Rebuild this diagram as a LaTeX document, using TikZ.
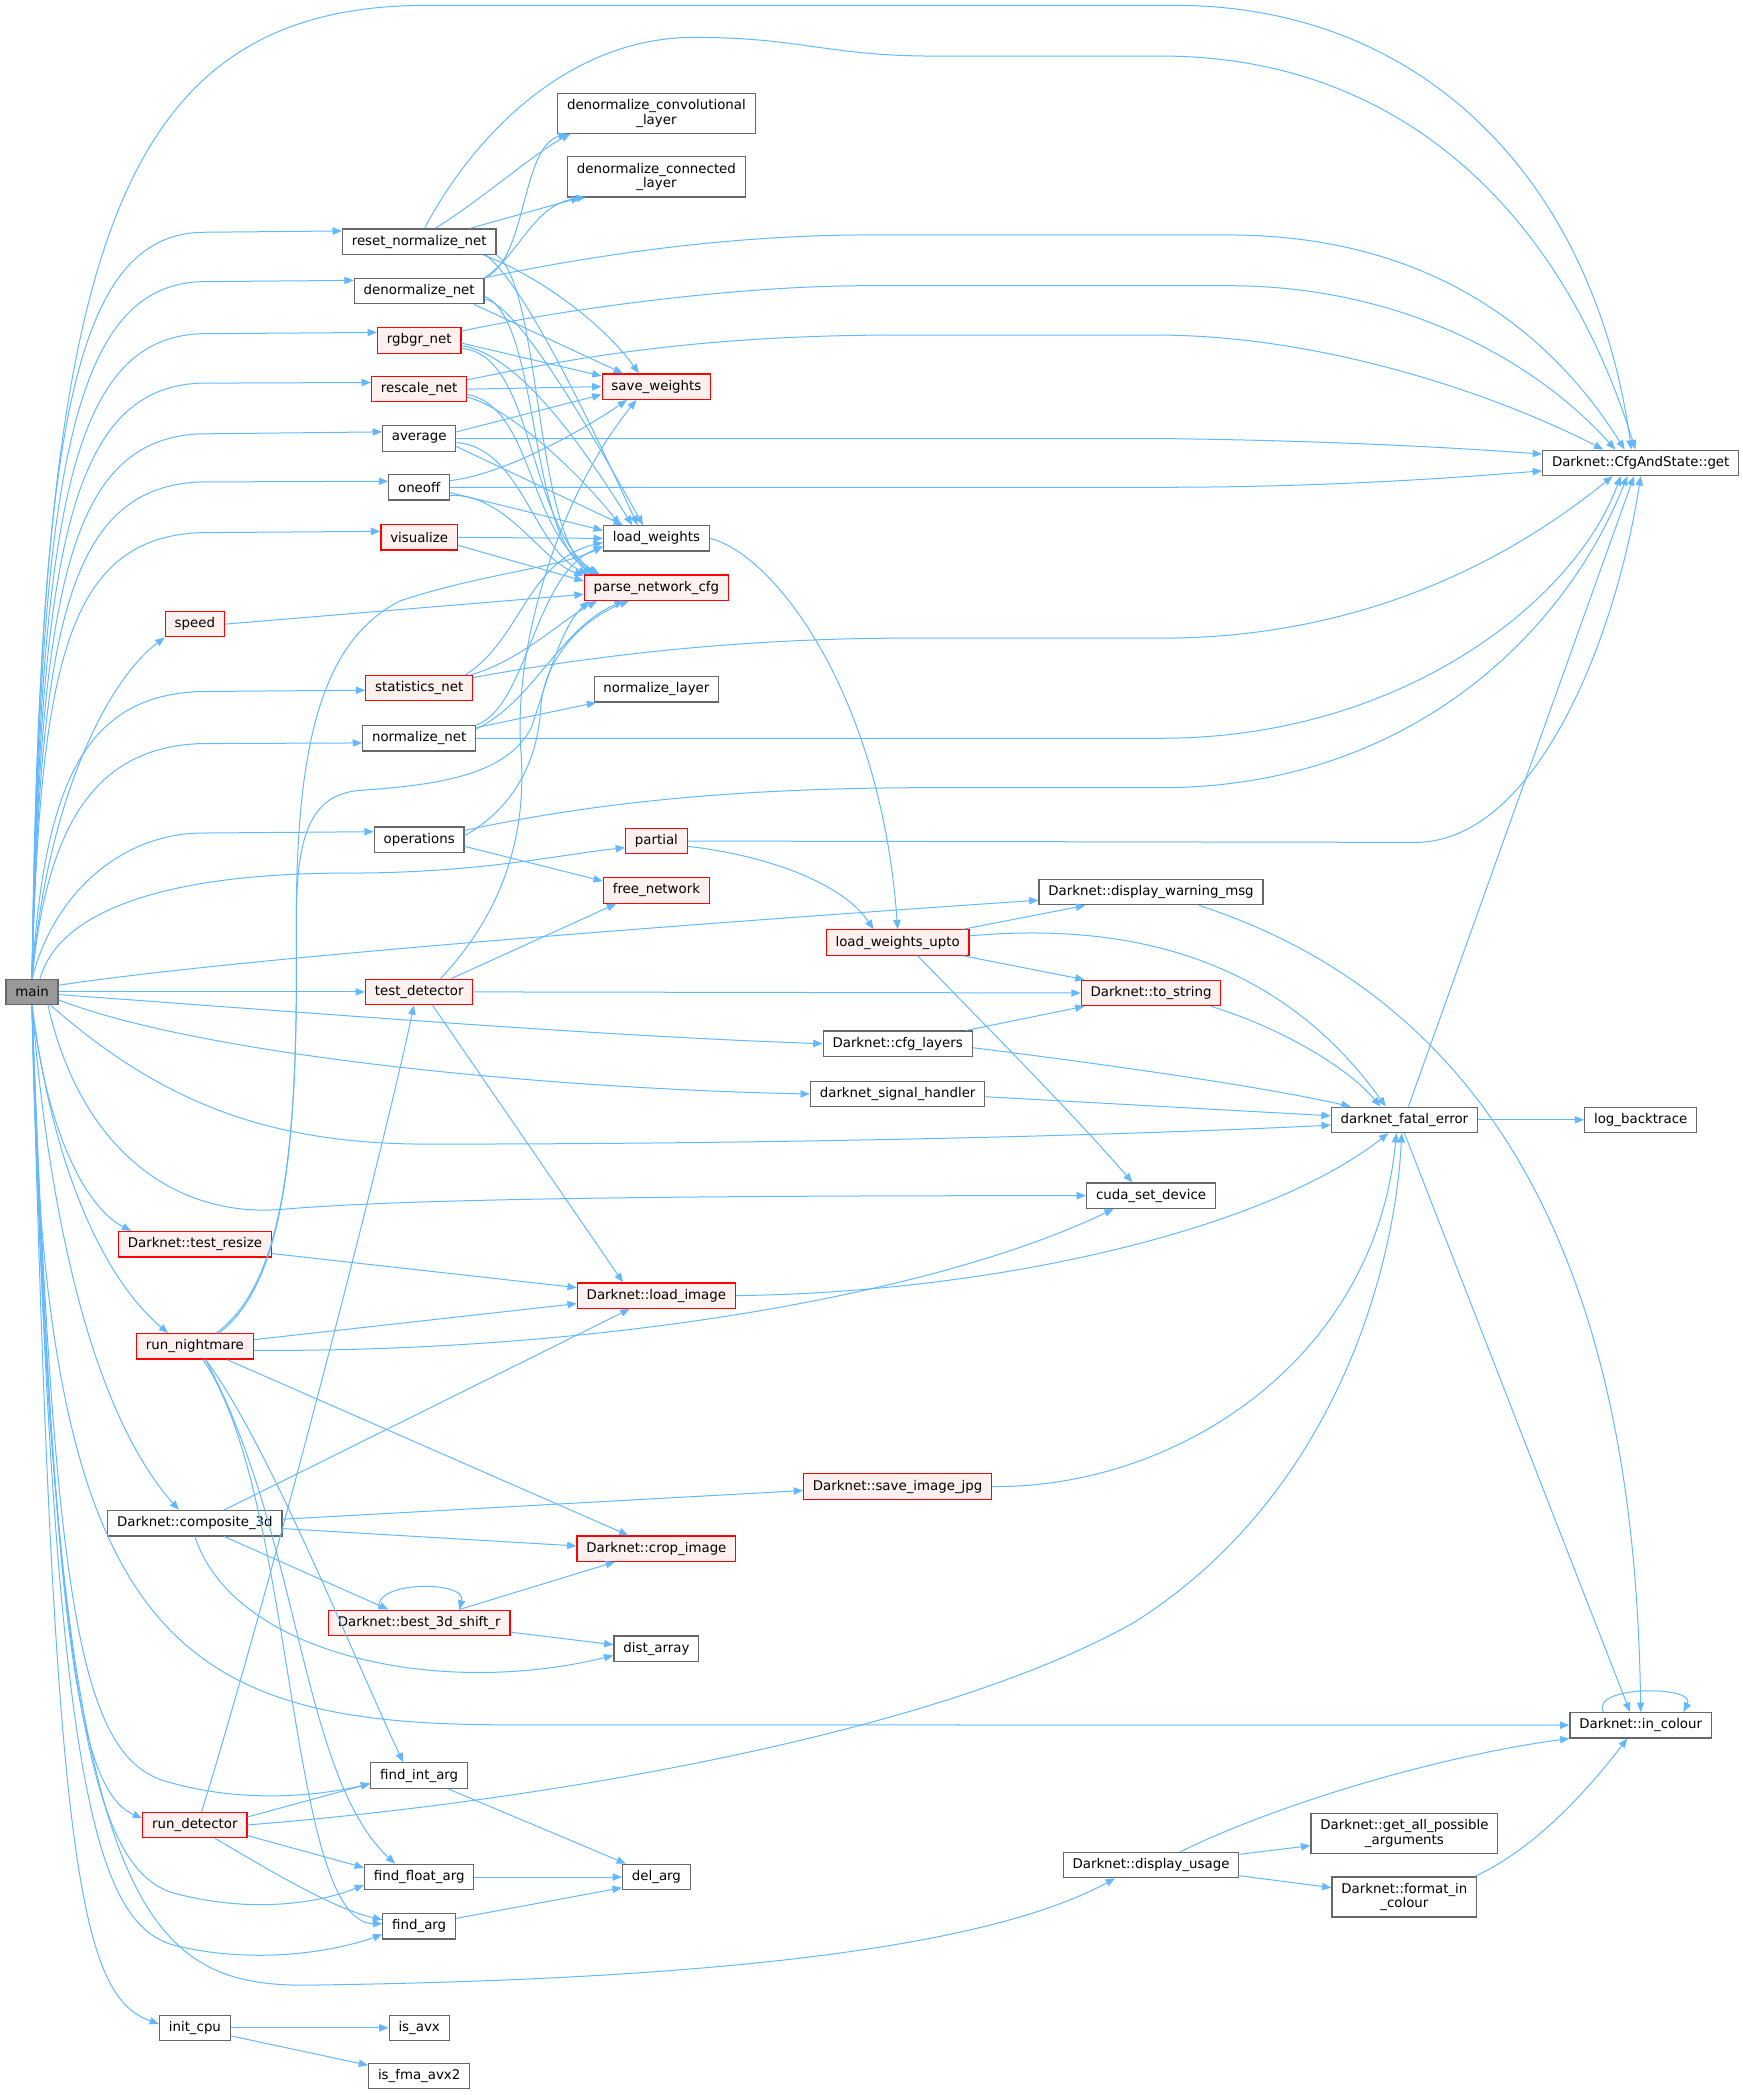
\documentclass[tikz,border=0pt]{standalone}
\usepackage{fontspec}
\setmainfont{DejaVu Sans}
\usetikzlibrary{arrows.meta}

\definecolor{edgeblue}{RGB}{99,184,255}
\definecolor{boxgray}{RGB}{102,102,102}
\definecolor{boxred}{RGB}{255,0,0}
\definecolor{redfill}{RGB}{255,240,240}
\definecolor{mainfill}{RGB}{153,153,153}

\tikzset{
  fn/.style={draw=boxgray, fill=white, line width=0.9pt, inner xsep=7pt, inner ysep=0pt,
    minimum height=19pt, font=\fontsize{10}{11}\selectfont},
  fnred/.style={fn, draw=boxred, fill=redfill},
  fnmain/.style={fn, fill=mainfill},
  twoline/.style={align=center, minimum height=30pt},
  call/.style={draw=edgeblue, line width=0.75pt, -{Triangle[length=7pt,width=5.5pt]}},
}

\begin{document}
\begin{tikzpicture}[x=1pt, y=-1pt]
    \useasboundingbox (0,0) rectangle (1305.6,1569.3);

    % functions
    \node[fnmain] (main) at (24,743) {main};
    \node[fn] (resetnorm) at (314,181) {reset\_normalize\_net};
    \node[fn] (denormnet) at (314,218) {denormalize\_net};
    \node[fnred] (rgbgr) at (314,255) {rgbgr\_net};
    \node[fnred] (rescale) at (314,291.5) {rescale\_net};
    \node[fn] (average) at (314,328.5) {average};
    \node[fn] (oneoff) at (314,365) {oneoff};
    \node[fnred] (visualize) at (314,402.5) {visualize};
    \node[fnred] (speed) at (146,467.5) {speed};
    \node[fnred] (statsnet) at (314,515.5) {statistics\_net};
    \node[fn] (normnet) at (314,553) {normalize\_net};
    \node[fn] (operations) at (314,629) {operations};
    \node[fnred] (testdet) at (314,743) {test\_detector};
    \node[fnred] (testresize) at (146,932) {Darknet::test\_resize};
    \node[fnred] (nightmare) at (146,1008.5) {run\_nightmare};
    \node[fn] (composite) at (146,1141) {Darknet::composite\_3d};
    \node[fnred] (shift) at (314,1215.6) {Darknet::best\_3d\_shift\_r};
    \node[fn] (findint) at (314,1330) {find\_int\_arg};
    \node[fnred] (rundet) at (146,1367) {run\_detector};
    \node[fn] (findfloat) at (314,1406) {find\_float\_arg};
    \node[fn] (findarg) at (314,1443) {find\_arg};
    \node[fn] (initcpu) at (146,1519) {init\_cpu};
    \node[fn] (isavx) at (314,1519) {is\_avx};
    \node[fn] (isfma) at (314,1555) {is\_fma\_avx2};

    \node[fn, twoline] (denormconv) at (491.7,84.8) {denormalize\_convolutional\\\_layer};
    \node[fn, twoline] (denormconn) at (491.7,132.5) {denormalize\_connected\\\_layer};
    \node[fnred] (saveweights) at (491.7,289.6) {save\_weights};
    \node[fn] (loadweights) at (491.7,403.3) {load\_weights};
    \node[fnred] (parsecfg) at (491.7,440.2) {parse\_network\_cfg};
    \node[fn] (normlayer) at (491.7,516.3) {normalize\_layer};
    \node[fnred] (partial) at (491.7,630) {partial};
    \node[fnred] (freenet) at (491.7,667) {free\_network};
    \node[fnred] (loadimg) at (491.7,970.5) {Darknet::load\_image};
    \node[fnred] (cropimg) at (491.7,1160) {Darknet::crop\_image};
    \node[fn] (distarr) at (491.7,1235) {dist\_array};
    \node[fn] (delarg) at (491.7,1406) {del\_arg};

    \node[fnred] (wupto) at (672.4,706) {load\_weights\_upto};
    \node[fn] (cfglayers) at (672.4,781.8) {Darknet::cfg\_layers};
    \node[fn] (sighandler) at (672.4,819.5) {darknet\_signal\_handler};
    \node[fnred] (savejpg) at (672.4,1113.5) {Darknet::save\_image\_jpg};

    \node[fn] (warnmsg) at (862.2,668.3) {Darknet::display\_warning\_msg};
    \node[fnred] (tostring) at (862.2,743.8) {Darknet::to\_string};
    \node[fn] (cudadev) at (862.2,895.6) {cuda\_set\_device};
    \node[fn] (usage) at (862.2,1397) {Darknet::display\_usage};

    \node[fn] (fatal) at (1052,838.8) {darknet\_fatal\_error};
    \node[fn, twoline] (allargs) at (1052,1373.5) {Darknet::get\_all\_possible\\\_arguments};
    \node[fn, twoline] (fmtcolour) at (1052,1421) {Darknet::format\_in\\\_colour};

    \node[fn] (cfgget) at (1229,346.7) {Darknet::CfgAndState::get};
    \node[fn] (backtrace) at (1229,838.8) {log\_backtrace};
    \node[fn] (incolour) at (1229,1292.3) {Darknet::in\_colour};

    % calls from main
    \draw[call] (main.north) .. controls (30,200) and (80,4) .. (320,4) -- (880,4) .. controls (1070,4) and (1195,140) .. ([xshift=-7pt]cfgget.north);
    \draw[call] (main.north) .. controls (30,341) and (50,178) .. (150,174) -- ([yshift=8pt]resetnorm.west);
    \draw[call] (main.north) .. controls (30,367) and (50,215) .. (150,211) -- ([yshift=8pt]denormnet.west);
    \draw[call] (main.north) .. controls (30,394) and (50,254) .. (150,250) -- ([yshift=6pt]rgbgr.west);
    \draw[call] (main.north) .. controls (30,420) and (50,291) .. (150,287) -- ([yshift=5pt]rescale.west);
    \draw[call] (main.north) .. controls (30,446) and (50,329) .. (150,325) -- ([yshift=5pt]average.west);
    \draw[call] (main.north) .. controls (30,472) and (50,365) .. (150,361) -- ([yshift=4.5pt]oneoff.west);
    \draw[call] (main.north) .. controls (30,498) and (50,403) .. (150,399) -- ([yshift=4.5pt]visualize.west);
    \draw[call] (main.north) .. controls (35,600) and (80,510) .. (speed.south west);
    \draw[call] (main.north) .. controls (33,590) and (62,521) .. (150,518) -- ([yshift=-1.5pt]statsnet.west);
    \draw[call] (main.north) .. controls (35,620) and (70,560) .. (150,557) -- ([yshift=-3.5pt]normnet.west);
    \draw[call] (main.north) .. controls (40,670) and (90,625) .. (150,624) -- ([yshift=6pt]operations.west);
    \draw[call] ([xshift=6pt]main.north) .. controls (45,680) and (130,654) .. (260,654) .. controls (360,654) and (420,640) .. ([yshift=-5pt]partial.west);
    \draw[call] ([yshift=5pt]main.east) .. controls (150,722) and (400,700) .. ([yshift=-6pt]warnmsg.west);
    \draw[call] (main.east) -- (testdet.west);
    \draw[call] ([yshift=-2pt]main.east) .. controls (250,760) and (450,776) .. (cfglayers.west);
    \draw[call] ([yshift=-6pt]main.east) .. controls (150,790) and (400,815) .. (sighandler.west);
    \draw[call] ([xshift=-6pt]main.south east) .. controls (120,825) and (200,857) .. (320,857) .. controls (600,857) and (850,850) .. ([yshift=-4pt]fatal.west);
    \draw[call] ([xshift=-8pt]main.south east) .. controls (60,860) and (130,912) .. (210,906) .. controls (300,898) and (500,895.6) .. (cudadev.west);
    \draw[call] (main.south) .. controls (35,850) and (65,905) .. ([xshift=10pt]testresize.north west);
    \draw[call] (main.south) .. controls (40,880) and (80,960) .. ([xshift=-20pt]nightmare.north);
    \draw[call] (main.south) .. controls (40,950) and (80,1070) .. ([xshift=-12pt]composite.north);
    \draw[call] (main.south) .. controls (30,1230) and (130,1292) .. (380,1292) -- (incolour.west);
    \draw[call] (main.south) .. controls (40,1200) and (60,1310) .. (120,1333) .. controls (180,1352) and (240,1345) .. ([yshift=-6pt]findint.west);
    \draw[call] (main.south) .. controls (40,1200) and (55,1340) .. ([yshift=5pt]rundet.west);
    \draw[call] (main.south) .. controls (40,1280) and (70,1400) .. (130,1418) .. controls (190,1434) and (240,1425) .. ([yshift=-6pt]findfloat.west);
    \draw[call] (main.south) .. controls (40,1330) and (70,1440) .. (130,1457) .. controls (190,1472) and (250,1462) .. ([yshift=-6pt]findarg.west);
    \draw[call] (main.south) .. controls (40,1420) and (100,1488) .. (230,1487) .. controls (450,1484) and (720,1470) .. ([xshift=-27pt]usage.south);
    \draw[call] (main.south) .. controls (40,1400) and (60,1495) .. ([yshift=3pt]initcpu.west);

    % reset_normalize_net
    \draw[call] ([xshift=4pt]resetnorm.north) .. controls (350,110) and (420,28) .. (520,28) .. controls (600,28) and (620,42) .. (700,42) -- (870,42) .. controls (1050,42) and (1170,160) .. ([xshift=-4pt]cfgget.north);
    \draw[call] ([xshift=12pt]resetnorm.north) .. controls (360,150) and (400,115) .. ([xshift=10pt]denormconv.south west);
    \draw[call] ([xshift=-20pt]resetnorm.north east) -- ([xshift=10pt]denormconn.south west);
    \draw[call] ([xshift=-10pt]resetnorm.south east) .. controls (400,205) and (450,240) .. ([xshift=28pt]saveweights.north west);
    \draw[call] ([xshift=-8pt]resetnorm.south east) .. controls (390,212) and (430,290) .. ([xshift=26pt]loadweights.north west);
    \draw[call] (resetnorm.south east) .. controls (405,215) and (400,390) .. ([xshift=6pt]parsecfg.north west);

    % denormalize_net
    \draw[call] (denormnet.north east) .. controls (450,190) and (550,176) .. (650,176) -- (920,176) .. controls (1050,176) and (1150,230) .. ([xshift=-12pt]cfgget.north);
    \draw[call] (denormnet.north east) .. controls (395,195) and (390,110) .. ([xshift=8pt]denormconv.south west);
    \draw[call] (denormnet.north east) .. controls (390,190) and (400,152) .. ([xshift=14pt]denormconn.south west);
    \draw[call] ([xshift=-8pt]denormnet.south east) -- ([xshift=16pt]saveweights.north west);
    \draw[call] ([yshift=-6pt]denormnet.east) .. controls (385,228) and (430,300) .. ([xshift=30pt]loadweights.north west);
    \draw[call] ([yshift=-4pt]denormnet.east) .. controls (405,240) and (395,400) .. ([xshift=8pt]parsecfg.north west);

    % rgbgr_net
    \draw[call] ([yshift=-3pt]rgbgr.north east) .. controls (420,232) and (550,214) .. (650,214) -- (920,214) .. controls (1050,214) and (1150,270) .. ([xshift=-19pt]cfgget.north);
    \draw[call] ([yshift=-2pt]rgbgr.east) -- ([yshift=8pt]saveweights.west);
    \draw[call] ([yshift=-4pt]rgbgr.east) .. controls (390,265) and (440,340) .. ([xshift=22pt]loadweights.north west);
    \draw[call] ([yshift=-6pt]rgbgr.east) .. controls (400,265) and (395,390) .. ([xshift=10pt]parsecfg.north west);

    % rescale_net
    \draw[call] ([yshift=-3pt]rescale.north east) .. controls (430,268) and (520,252) .. (660,251) -- (870,251) .. controls (1000,252) and (1130,300) .. ([xshift=-28pt]cfgget.north);
    \draw[call] (rescale.east) -- (saveweights.west);
    \draw[call] ([yshift=-6pt]rescale.east) .. controls (380,305) and (430,350) .. ([xshift=13pt]loadweights.north west);
    \draw[call] ([yshift=-4pt]rescale.east) .. controls (400,305) and (395,400) .. ([xshift=12pt]parsecfg.north west);

    % average
    \draw[call] (average.east) -- (870,328.5) .. controls (1000,330) and (1100,336) .. ([yshift=6.5pt]cfgget.west);
    \draw[call] ([yshift=5pt]average.east) -- ([yshift=-6pt]saveweights.west);
    \draw[call] ([yshift=-6pt]average.east) -- ([xshift=15pt]loadweights.north west);
    \draw[call] ([yshift=-3pt]average.east) .. controls (390,335) and (400,410) .. ([xshift=3pt]parsecfg.north west);

    % oneoff
    \draw[call] (oneoff.east) -- (870,365) .. controls (1000,365) and (1100,357) .. ([yshift=-6pt]cfgget.west);
    \draw[call] ([yshift=5pt]oneoff.east) .. controls (380,355) and (440,320) .. ([xshift=-22pt]saveweights.south);
    \draw[call] ([yshift=-4pt]oneoff.east) -- ([yshift=6pt]loadweights.west);
    \draw[call] ([yshift=-6pt]oneoff.east) .. controls (380,370) and (405,420) .. ([yshift=-1pt]parsecfg.north west);

    % visualize, speed
    \draw[call] (visualize.east) -- (loadweights.west);
    \draw[call] ([yshift=-6pt]visualize.east) -- ([yshift=5pt]parsecfg.west);
    \draw[call] (speed.east) -- ([yshift=-5pt]parsecfg.west);

    % statistics_net
    \draw[call] ([yshift=-2pt]statsnet.north east) .. controls (450,490) and (560,478) .. (680,478) -- (870,478) .. controls (1020,478) and (1130,420) .. ([xshift=-21pt]cfgget.south);
    \draw[call] ([xshift=-6pt]statsnet.north east) .. controls (390,480) and (395,420) .. ([yshift=-3pt]loadweights.west);
    \draw[call] ([xshift=-2pt]statsnet.north east) .. controls (390,495) and (420,465) .. ([xshift=10pt]parsecfg.south west);

    % normalize_net
    \draw[call] (normnet.east) -- (870,553) .. controls (1050,553) and (1180,450) .. ([xshift=-15pt]cfgget.south);
    \draw[call] ([yshift=-2pt]normnet.north east) -- ([xshift=2pt]normlayer.south west);
    \draw[call] (normnet.north east) .. controls (395,530) and (400,430) .. ([yshift=-6pt]loadweights.west);
    \draw[call] ([yshift=-3pt]normnet.north east) .. controls (400,525) and (420,470) .. ([xshift=30pt]parsecfg.south west);

    % operations
    \draw[call] ([yshift=-3pt]operations.north east) .. controls (450,600) and (560,590) .. (700,590) -- (870,590) .. controls (1050,590) and (1170,480) .. ([xshift=-10pt]cfgget.south);
    \draw[call] ([yshift=3pt]operations.east) .. controls (385,605) and (403,570) .. (405,530) .. controls (408,490) and (440,462) .. ([xshift=34pt]parsecfg.south west);
    \draw[call] ([yshift=-5pt]operations.east) -- ([yshift=7pt]freenet.west);

    % partial, load_weights
    \draw[call] (partial.east) -- (1060,631) .. controls (1150,631) and (1210,480) .. (cfgget.south);
    \draw[call] ([yshift=-4pt]partial.east) .. controls (570,640) and (630,660) .. ([xshift=-18pt]wupto.north);
    \draw[call] (loadweights.east) .. controls (580,415) and (660,520) .. (wupto.north);

    % load_weights_upto
    \draw[call] ([xshift=-5pt]wupto.north east) -- ([xshift=35pt]warnmsg.south west);
    \draw[call] ([xshift=-5pt]wupto.south east) -- ([xshift=3pt]tostring.north west);
    \draw[call] ([yshift=5pt]wupto.east) .. controls (850,690) and (960,720) .. ([xshift=-14pt]fatal.north);
    \draw[call] ([xshift=15pt]wupto.south) .. controls (730,760) and (800,830) .. ([xshift=-14pt]cudadev.north);

    % test_detector
    \draw[call] (testdet.east) -- (tostring.west);
    \draw[call] ([xshift=24pt]testdet.north) -- ([xshift=10pt]freenet.south west);
    \draw[call] ([xshift=10pt]testdet.south) -- ([xshift=-25pt]loadimg.north);
    \draw[call] ([xshift=16pt]testdet.north) .. controls (380,680) and (395,620) .. (390,560) .. controls (385,480) and (420,370) .. ([xshift=-15pt]saveweights.south);

    % error handling
    \draw[call] ([xshift=36pt]warnmsg.south) .. controls (1180,770) and (1226,1060) .. (incolour.north);
    \draw[call] ([xshift=-8pt]tostring.south east) .. controls (960,770) and (1010,800) .. ([xshift=-18pt]fatal.north);
    \draw[call] ([xshift=-5pt]cfglayers.north east) -- ([xshift=3pt]tostring.south west);
    \draw[call] ([yshift=-3pt]cfglayers.east) .. controls (850,800) and (950,815) .. ([xshift=15pt]fatal.north west);
    \draw[call] ([yshift=-2pt]sighandler.east) -- ([yshift=3pt]fatal.west);
    \draw[call] (fatal.east) -- (backtrace.west);
    \draw[call] ([xshift=3pt]fatal.north) -- ([xshift=-5pt]cfgget.south);
    \draw[call] (fatal.south) -- ([xshift=-8pt]incolour.north);
    \draw[call] ([xshift=-28pt]incolour.north) .. controls +(-10,-20) and +(10,-20) .. ([xshift=32pt]incolour.north);

    % images
    \draw[call] ([yshift=-7pt]testresize.east) -- ([yshift=6pt]loadimg.west);
    \draw[call] (loadimg.east) .. controls (750,968) and (950,920) .. ([xshift=-12pt]fatal.south);
    \draw[call] (savejpg.east) .. controls (880,1115) and (1030,1020) .. ([xshift=-6pt]fatal.south);

    % run_nightmare
    \draw[call] ([yshift=5pt]nightmare.east) -- ([yshift=-6pt]loadimg.west);
    \draw[call] ([yshift=-3pt]nightmare.east) .. controls (450,1013) and (700,970) .. ([xshift=-28pt]cudadev.south);
    \draw[call] ([xshift=24pt]nightmare.south) -- ([xshift=-21pt]cropimg.north);
    \draw[call] ([xshift=8pt]nightmare.south) .. controls (200,1080) and (260,1230) .. ([xshift=-12pt]findint.north);
    \draw[call] ([xshift=8pt]nightmare.south) .. controls (225,1150) and (225,1330) .. ([xshift=-18pt]findfloat.north);
    \draw[call] ([xshift=6pt]nightmare.south) .. controls (222,1120) and (215,1440) .. ([yshift=2pt]findarg.west);
    \draw[call] ([xshift=18pt]nightmare.north) .. controls (215,960) and (223,850) .. (222,700) .. controls (221,560) and (240,480) .. (300,450) .. controls (360,430) and (420,425) .. ([yshift=-6pt]loadweights.west);
    \draw[call] ([xshift=16pt]nightmare.north) .. controls (215,960) and (223,850) .. (222,700) .. controls (221,630) and (230,595) .. (270,592) .. controls (330,588) and (380,580) .. (398,545) .. controls (410,510) and (420,470) .. ([xshift=4pt]parsecfg.south west);

    % composite_3d
    \draw[call] ([xshift=22pt]composite.north) -- ([xshift=-20pt]loadimg.south);
    \draw[call] ([yshift=3pt]composite.east) -- ([yshift=-3pt]savejpg.west);
    \draw[call] ([yshift=-4pt]composite.east) -- ([yshift=2pt]cropimg.west);
    \draw[call] ([xshift=22pt]composite.south) -- ([xshift=-23pt]shift.north);
    \draw[call] (composite.south) .. controls (175,1240) and (330,1272) .. ([yshift=-5pt]distarr.west);
    \draw[call] ([xshift=-30pt]shift.north) .. controls +(-6,-22) and +(6,-22) .. ([xshift=30pt]shift.north);
    \draw[call] ([xshift=30pt]shift.north) -- ([xshift=-31pt]cropimg.south);
    \draw[call] ([yshift=-7pt]shift.east) -- ([yshift=3pt]distarr.west);

    % run_detector and arguments
    \draw[call] ([xshift=5pt]rundet.north) .. controls (200,1200) and (290,850) .. ([xshift=-4pt]testdet.south);
    \draw[call] ([yshift=6pt]rundet.east) -- ([yshift=-6pt]findint.west);
    \draw[call] ([yshift=-8pt]rundet.east) -- ([yshift=7pt]findfloat.west);
    \draw[call] ([xshift=15pt]rundet.south) .. controls (200,1400) and (250,1430) .. ([yshift=5pt]findarg.west);
    \draw[call] (rundet.east) .. controls (400,1350) and (700,1300) .. (850,1215) .. controls (1000,1120) and (1045,950) .. ([xshift=-2pt]fatal.south);
    \draw[call] ([xshift=-15pt]findint.south east) -- ([xshift=3pt]delarg.north west);
    \draw[call] (findfloat.east) -- (delarg.west);
    \draw[call] ([yshift=6pt]findarg.east) -- ([yshift=-8pt]delarg.west);
    \draw[call] (initcpu.east) -- (isavx.west);
    \draw[call] ([yshift=-6pt]initcpu.east) -- ([yshift=8pt]isfma.west);

    % display_usage
    \draw[call] ([xshift=22pt]usage.north) .. controls (960,1350) and (1080,1315) .. (incolour.south west);
    \draw[call] ([yshift=8pt]usage.east) -- ([yshift=-9pt]allargs.west);
    \draw[call] ([yshift=-8pt]usage.east) -- ([yshift=7pt]fmtcolour.west);
    \draw[call] ([xshift=-2pt]fmtcolour.north east) .. controls (1150,1385) and (1190,1340) .. ([xshift=-10pt]incolour.south);
\end{tikzpicture}
\end{document}
